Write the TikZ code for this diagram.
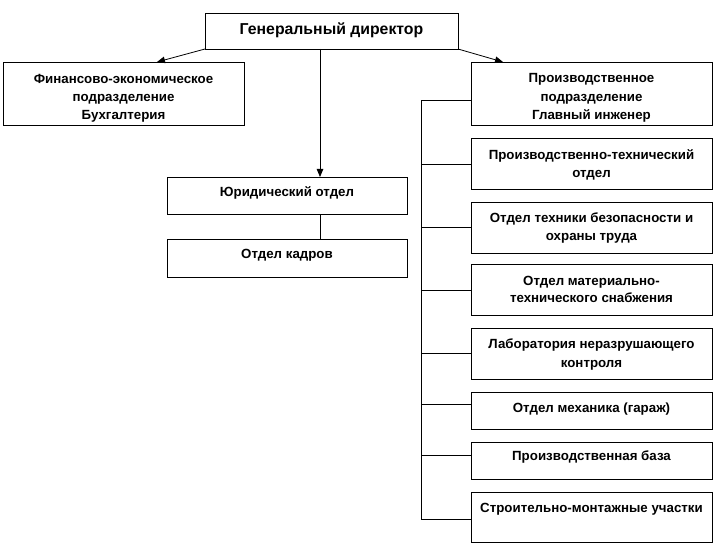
\documentclass[tikz,border=0pt]{standalone}
\usepackage{fontspec}
\setmainfont{Liberation Sans}
\usetikzlibrary{arrows.meta}
\begin{document}
\begin{tikzpicture}[x=1pt,y=-1pt,
  box/.style={draw, line width=0.8pt, inner sep=0pt, outer sep=0pt, rectangle},
  txt/.style={inner sep=0pt, anchor=base, font=\fontsize{13.3}{16}\selectfont\bfseries},
  bigtxt/.style={inner sep=0pt, anchor=base, font=\fontsize{15.8}{18}\selectfont\bfseries},
  conn/.style={line width=0.8pt},
  arr/.style={line width=0.8pt, -{Triangle[length=8pt,width=6.5pt]}}]
\useasboundingbox (0,0) rectangle (714,556);
% boxes
\node[box, minimum width=253pt, minimum height=36pt] (gd) at (331.5,31) {};
\node[box, minimum width=241pt, minimum height=63pt] (fin) at (123.5,93.5) {};
\node[box, minimum width=241pt, minimum height=63pt] (prod) at (591.5,93.5) {};
\node[box, minimum width=240pt, minimum height=37pt] (jur) at (287,195.5) {};
\node[box, minimum width=240pt, minimum height=38pt] (kad) at (287,258) {};
\node[box, minimum width=241pt, minimum height=51pt] (b1) at (591.5,163.5) {};
\node[box, minimum width=241pt, minimum height=51pt] (b2) at (591.5,227.5) {};
\node[box, minimum width=241pt, minimum height=51pt] (b3) at (591.5,289.5) {};
\node[box, minimum width=241pt, minimum height=51pt] (b4) at (591.5,353.5) {};
\node[box, minimum width=241pt, minimum height=37pt] (b5) at (591.5,410.5) {};
\node[box, minimum width=241pt, minimum height=37pt] (b6) at (591.5,460.5) {};
\node[box, minimum width=241pt, minimum height=50pt] (b7) at (591.5,517) {};
% texts
\node[bigtxt] (tgd) at (331.5,34.5) {Генеральный директор};
\node[txt] (tf1) at (123.5,83.5) {Финансово-экономическое};
\node[txt] (tf2) at (123.5,101.5) {подразделение};
\node[txt] (tf3) at (123.5,119.5) {Бухгалтерия};
\node[txt] (tp1) at (591.5,82.5) {Производственное};
\node[txt] (tp2) at (591.5,101.5) {подразделение};
\node[txt] (tp3) at (591.5,119.5) {Главный инженер};
\node[txt] (tj) at (287,196.5) {Юридический отдел};
\node[txt] (tk) at (287,258.5) {Отдел кадров};
\node[txt] (t1a) at (591.5,159.5) {Производственно-технический};
\node[txt] (t1b) at (591.5,177.5) {отдел};
\node[txt] (t2a) at (591.5,222.5) {Отдел техники безопасности  и};
\node[txt] (t2b) at (591.5,240.5) {охраны труда};
\node[txt] (t3a) at (591.5,285.5) {Отдел материально-};
\node[txt] (t3b) at (591.5,302.5) {технического снабжения};
\node[txt] (t4a) at (591.5,348.5) {Лаборатория  неразрушающего};
\node[txt] (t4b) at (591.5,367.5) {контроля};
\node[txt] (t5) at (591.5,412.5) {Отдел механика (гараж)};
\node[txt] (t6) at (591.5,460.5) {Производственная  база};
\node[txt] (t7) at (591.5,512.5) {Строительно-монтажные участки};
% arrows from director
\coordinate (finTip) at (157,62);
\coordinate (prodTip) at (503,62);
\coordinate (gdDown) at (320,49);
\draw[arr] (gd.south west) -- (finTip);
\draw[arr] (gd.south east) -- (prodTip);
\draw[arr] (gdDown) -- (gdDown |- jur.north);
\draw[conn] (gdDown |- jur.south) -- (gdDown |- kad.north);
% spine
\coordinate (s0) at (421,100);
\coordinate (s1) at (421,164);
\coordinate (s2) at (421,227);
\coordinate (s3) at (421,290);
\coordinate (s4) at (421,353);
\coordinate (s5) at (421,404);
\coordinate (s6) at (421,455);
\coordinate (s7) at (421,519);
\draw[conn] (s0 -| prod.west) -- (s0) -- (s7) -- (s7 -| b7.west);
\draw[conn] (s1) -- (s1 -| b1.west);
\draw[conn] (s2) -- (s2 -| b2.west);
\draw[conn] (s3) -- (s3 -| b3.west);
\draw[conn] (s4) -- (s4 -| b4.west);
\draw[conn] (s5) -- (s5 -| b5.west);
\draw[conn] (s6) -- (s6 -| b6.west);
\end{tikzpicture}
\end{document}
